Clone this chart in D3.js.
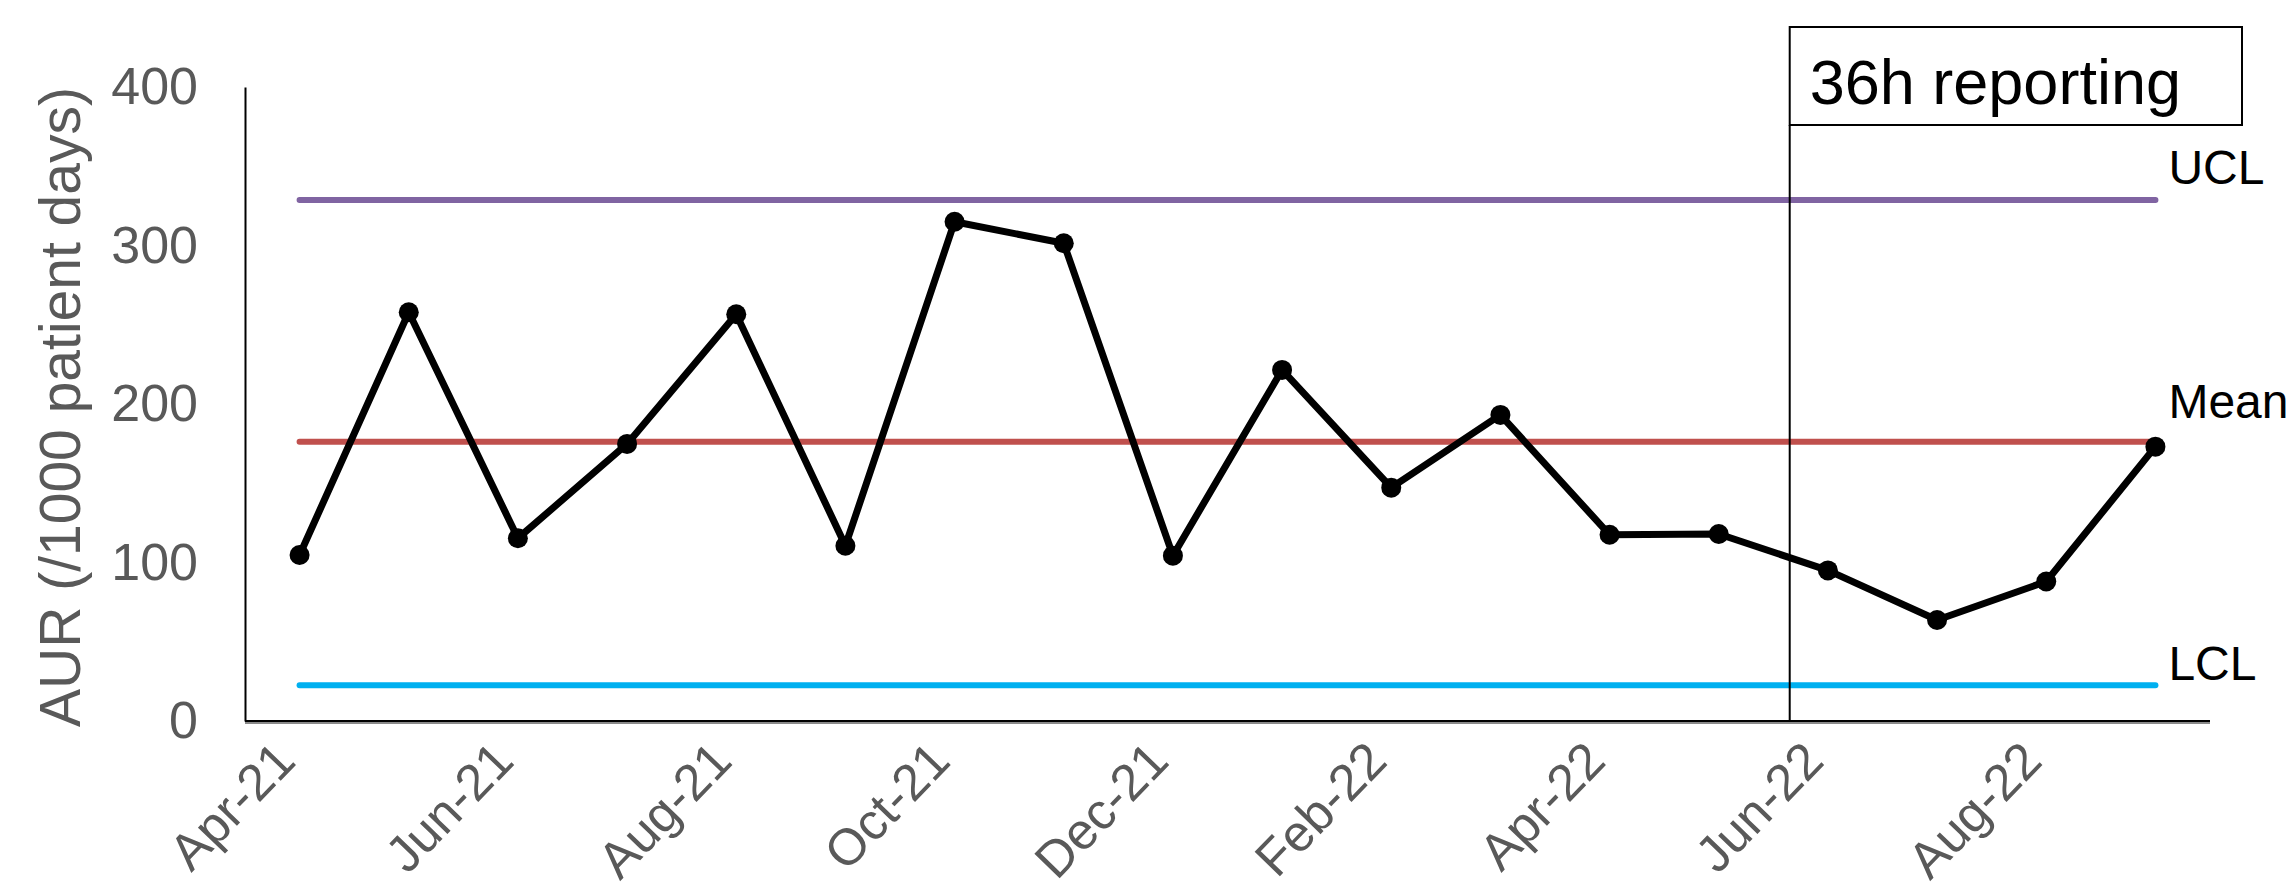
<!DOCTYPE html>
<html>
<head>
<meta charset="utf-8">
<script src="https://cdn.jsdelivr.net/npm/d3@7"></script>
<style>
  body { margin: 0; background: #fff; }
  svg { display: block; font-family: Arial, "Liberation Sans", sans-serif; }
</style>
</head>
<body>
<div id="chart"></div>
<script>
// DATA
var months = ["Apr-21", "May-21", "Jun-21", "Jul-21", "Aug-21", "Sep-21", "Oct-21", "Nov-21", "Dec-21",
              "Jan-22", "Feb-22", "Mar-22", "Apr-22", "May-22", "Jun-22", "Jul-22", "Aug-22", "Sep-22"];
var aur = [104.7, 257.9, 115.3, 174.8, 256.6, 110.6, 315, 301.4, 104.3,
           221.5, 147.2, 193.1, 117.5, 118, 95, 63.7, 88, 173.1];
var limitNames = ["UCL", "Mean", "LCL"];
var limitValues = [328.7, 176.2, 22.5];
var yTicks = [0, 100, 200, 300, 400];
var xTickLabels = ["Apr-21", "Jun-21", "Aug-21", "Oct-21", "Dec-21", "Feb-22", "Apr-22", "Jun-22", "Aug-22"];
var annotationText = "36h reporting";
var annotationStart = "Jun-22";           // reporting change drawn just inside this month
var yTitle = "AUR (/1000 patient days)";

// LAYOUT / STYLE
var width = 2292;
var height = 890;
var plot_left = 245;
var plot_right = 2210;
var plot_top = 87;
var plot_bottom = 721;
var limitColors = ["#8064A2", "#C0504D", "#00B0F0"];
var limitLabelDy = [-16, -24, -5];       // excel put the labels at slightly different heights
var gray_text = "#595959";

var svg = d3.select("#chart").append("svg")
  .attr("width", width)
  .attr("height", height);

var x = d3.scaleBand().domain(months).range([plot_left, plot_right]);
var y = d3.scaleLinear().domain([0, 400]).range([plot_bottom, plot_top]);

function cx(m) { return x(m) + x.bandwidth() / 2; }

/* y axis */
var yAxis = svg.append("g")
  .attr("transform", "translate(" + plot_left + ",0)")
  .call(d3.axisLeft(y).tickValues(yTicks).tickSize(0).tickSizeOuter(0).tickPadding(47));
yAxis.select(".domain").attr("stroke", "#000").attr("stroke-width", 2);
yAxis.selectAll("text")
  .attr("font-size", 52)
  .attr("font-family", "Arial, 'Liberation Sans', sans-serif")
  .attr("fill", gray_text);

svg.append("text")
  .attr("transform", "translate(80," + ((plot_top + plot_bottom) / 2 + 3) + ") rotate(-90)")
  .attr("text-anchor", "middle")
  .attr("font-size", 57)
  .attr("fill", gray_text)
  .text(yTitle);

/* x axis */
var xAxis = svg.append("g")
  .attr("transform", "translate(0," + plot_bottom + ")")
  .call(d3.axisBottom(x).tickValues(xTickLabels).tickSize(0).tickSizeOuter(0));
xAxis.select(".domain").remove();
xAxis.selectAll("text")
  .attr("x", 0)
  .attr("y", 0)
  .attr("dy", 0)
  .attr("transform", "translate(-2,42) rotate(-46)")
  .attr("text-anchor", "end")
  .attr("font-size", 51)
  .attr("font-family", "Arial, 'Liberation Sans', sans-serif")
  .attr("fill", gray_text);

svg.append("line")
  .attr("x1", plot_left).attr("x2", plot_right)
  .attr("y1", plot_bottom + 2).attr("y2", plot_bottom + 2)
  .attr("stroke", "#8a8a8a").attr("stroke-width", 2);
svg.append("line")
  .attr("x1", plot_left).attr("x2", plot_right)
  .attr("y1", plot_bottom).attr("y2", plot_bottom)
  .attr("stroke", "#000").attr("stroke-width", 2);

/* control limits */
var first_x = cx(months[0]);
var last_x = cx(months[months.length - 1]);

svg.append("g").selectAll("line")
  .data(limitValues)
  .enter()
  .append("line")
  .attr("x1", first_x)
  .attr("x2", last_x)
  .attr("y1", function(d) { return y(d); })
  .attr("y2", function(d) { return y(d); })
  .attr("stroke", function(d, i) { return limitColors[i]; })
  .attr("stroke-width", 6)
  .attr("stroke-linecap", "round");

svg.append("g").selectAll("text")
  .data(limitValues)
  .enter()
  .append("text")
  .attr("x", last_x + 13)
  .attr("y", function(d, i) { return y(d) + limitLabelDy[i]; })
  .attr("font-size", 48)
  .attr("fill", "#000")
  .text(function(d, i) { return limitNames[i]; });

/* 36h reporting marker */
var note_x = x(annotationStart) + x.bandwidth() * 0.15;
var box_top = 27;
var box_bottom = 125;
var box_right = 2242;

svg.append("line")
  .attr("x1", note_x).attr("x2", note_x)
  .attr("y1", box_bottom).attr("y2", plot_bottom)
  .attr("stroke", "#000").attr("stroke-width", 2);

svg.append("rect")
  .attr("x", note_x)
  .attr("y", box_top)
  .attr("width", box_right - note_x)
  .attr("height", box_bottom - box_top)
  .attr("fill", "#fff")
  .attr("stroke", "#000")
  .attr("stroke-width", 2);

svg.append("text")
  .attr("x", note_x + 20)
  .attr("y", 104)
  .attr("font-size", 63)
  .attr("fill", "#000")
  .text(annotationText);

/* AUR series */
var line = d3.line()
  .x(function(d, i) { return cx(months[i]); })
  .y(function(d) { return y(d); });

svg.append("path")
  .datum(aur)
  .attr("d", line)
  .attr("fill", "none")
  .attr("stroke", "#000")
  .attr("stroke-width", 7)
  .attr("stroke-linejoin", "round");

svg.append("g").selectAll("circle")
  .data(aur)
  .enter()
  .append("circle")
  .attr("cx", function(d, i) { return cx(months[i]); })
  .attr("cy", function(d) { return y(d); })
  .attr("r", 10)
  .attr("fill", "#000");
</script>
</body>
</html>
